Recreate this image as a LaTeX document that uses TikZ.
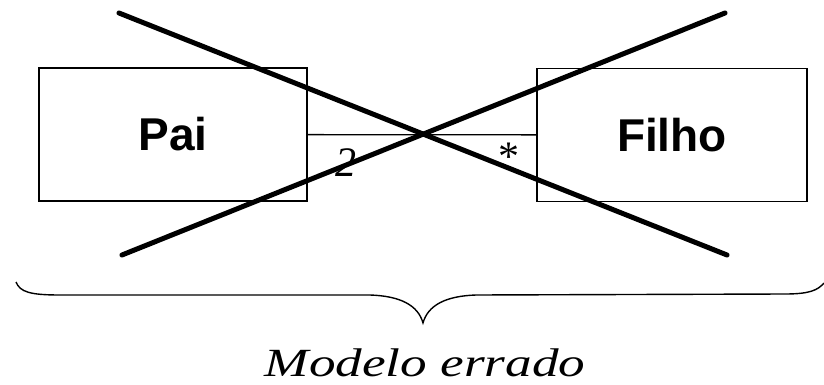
\documentclass[tikz,border=0pt]{standalone}
\usepackage{fontspec}
\setmainfont{Liberation Serif}
\newfontfamily\boxfont{Liberation Sans}
\usetikzlibrary{positioning}

\begin{document}
\begin{tikzpicture}[x=1pt,y=-1pt,
  classbox/.style={draw,line width=1.6pt,minimum width=268pt,minimum height=133pt,
    font=\boxfont\bfseries\fontsize{46}{46}\selectfont},
  assoc/.style={line width=1.3pt},
  cross/.style={line width=5pt,line cap=round},
  mult/.style={font=\itshape\fontsize{42}{42}\selectfont,inner sep=0pt}]
\useasboundingbox (0,0) rectangle (824,385);
\node[classbox] (pai) at (173,134.5) {Pai};
\node[classbox,minimum width=270pt] (filho) at (672,135) {Filho};
\draw[assoc] (pai) -- (filho);
\node[mult] (two) at (346,163) {2};
\node[mult] (many) at (507,157) {*};
% the model is crossed out
\coordinate (a1) at (119,13);
\coordinate (a2) at (727,255);
\coordinate (b1) at (122,255);
\coordinate (b2) at (725,13);
\draw[cross] (a1) -- (a2);
\draw[cross] (b1) -- (b2);
% brace under the model
\draw[line width=1.4pt] (16,282) .. controls (20,292) and (30,295) .. (60,295)
  -- (370,295) .. controls (400,296) and (418,305) .. (423,323)
  .. controls (428,305) and (446,296) .. (476,295)
  -- (785,294) .. controls (810,294) and (818,290) .. (824,283);
\node[font=\itshape\fontsize{40}{40}\selectfont,xscale=1.33] (caption) at (425,363) {Modelo errado};
\end{tikzpicture}
\end{document}
